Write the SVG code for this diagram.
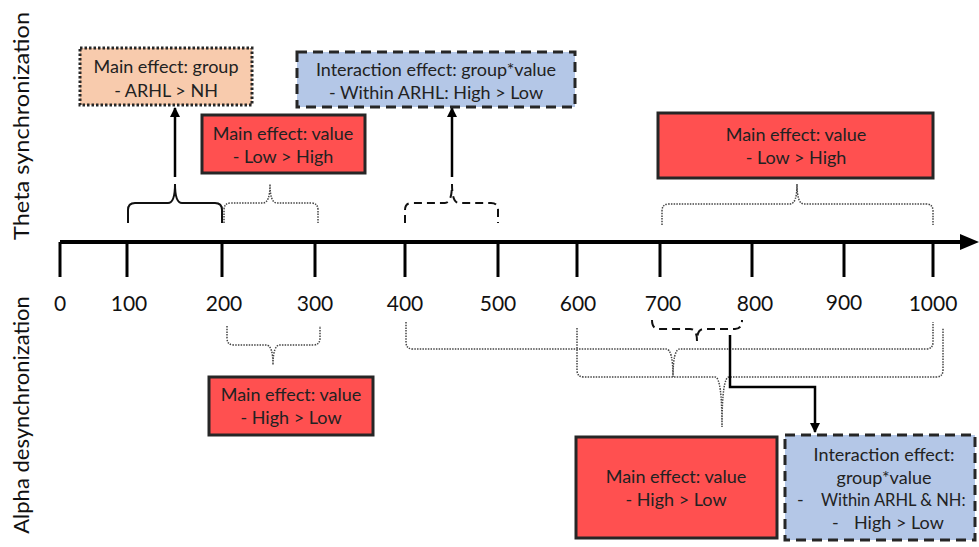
<svg xmlns="http://www.w3.org/2000/svg" width="979" height="547" viewBox="0 0 979 547">
<style>
.red{fill:#FF5050;stroke:#262626;stroke-width:3}
.blue{fill:#B4C7E7;stroke:#262626;stroke-width:3;stroke-dasharray:10 6}
.orange{fill:#F8CBAD;stroke:#262626;stroke-width:3;stroke-dasharray:2.5 2}
.t{font-family:Lato,"Liberation Sans",sans-serif;font-size:18px;fill:#222;text-anchor:middle}
.ts{font-family:Lato,"Liberation Sans",sans-serif;font-size:18px;fill:#222}
.num{font-family:Lato,"Liberation Sans",sans-serif;font-size:21px;fill:#111;text-anchor:middle}
.side{font-family:Lato,"Liberation Sans",sans-serif;font-size:22px;fill:#111;text-anchor:middle}
.bdot{fill:none;stroke:#444;stroke-width:1.5;stroke-dasharray:1.5 1.2}
.bsolid{fill:none;stroke:#111;stroke-width:2}
.bdash{fill:none;stroke:#111;stroke-width:2;stroke-dasharray:8 5}
.conn{fill:none;stroke:#000;stroke-width:2.5}
.tick{stroke:#000;stroke-width:3}
</style>
<defs>
<marker id="ah" markerUnits="userSpaceOnUse" markerWidth="10" markerHeight="10" refX="9" refY="5" orient="auto">
<path d="M0,0 L10,5 L0,10 z" fill="#000"/>
</marker>
</defs>

<g id="side-labels">
<text class="side" transform="translate(29,126) rotate(-90)" textLength="228" lengthAdjust="spacingAndGlyphs">Theta synchronization</text>
<text class="side" transform="translate(29,415) rotate(-90)">Alpha desynchronization</text>
</g>

<g id="axis">
<line x1="60" y1="242" x2="962" y2="242" stroke="#000" stroke-width="4"/>
<polygon points="960,234 979,242 960,250" fill="#000"/>
<line class="tick" x1="60" y1="242" x2="60" y2="277"/>
<line class="tick" x1="127" y1="242" x2="127" y2="277"/>
<line class="tick" x1="222" y1="242" x2="222" y2="277"/>
<line class="tick" x1="315" y1="242" x2="315" y2="277"/>
<line class="tick" x1="405" y1="242" x2="405" y2="277"/>
<line class="tick" x1="498" y1="242" x2="498" y2="277"/>
<line class="tick" x1="577" y1="242" x2="577" y2="277"/>
<line class="tick" x1="660" y1="242" x2="660" y2="277"/>
<line class="tick" x1="752" y1="242" x2="752" y2="277"/>
<line class="tick" x1="844" y1="242" x2="844" y2="277"/>
<line class="tick" x1="933" y1="242" x2="933" y2="277"/>
<text class="num" x="60" y="311">0</text>
<text class="num" x="129" y="311">100</text>
<text class="num" x="224" y="311">200</text>
<text class="num" x="315" y="311">300</text>
<text class="num" x="405" y="311">400</text>
<text class="num" x="498" y="311">500</text>
<text class="num" x="578" y="311">600</text>
<text class="num" x="663" y="311">700</text>
<text class="num" x="755" y="311">800</text>
<text class="num" x="844" y="310">900</text>
<text class="num" x="933" y="311">1000</text>
</g>

<g id="connectors">
<path class="bsolid" d="M128,223 V210 Q128,203 135,203 H168 Q175,203 175,184 Q175,203 182,203 H215 Q222,203 222,210 V223"/>
<path class="bdot" d="M224,223 V210 Q224,203 231,203 H263 Q270,203 270,184 Q270,203 277,203 H311 Q318,203 318,210 V223"/>
<path class="bdash" d="M405,223 V210 Q405,203 412,203 H445 Q452,203 452,184 Q452,203 459,203 H491 Q498,203 498,210 V223"/>
<path class="bdot" d="M662,225 V211 Q662,204 669,204 H790 Q797,204 797,184 Q797,204 804,204 H926 Q933,204 933,211 V225"/>
<path class="conn" d="M175,177 V108" marker-end="url(#ah)"/>
<path class="conn" d="M452,177 V108" marker-end="url(#ah)"/>
<path class="bdot" d="M227,326 V338 Q227,345 234,345 H266 Q273,345 273,365 Q273,345 280,345 H313 Q320,345 320,338 V326"/>
<path class="bdot" d="M406,322 V342 Q406,349 413,349 H666 Q673,349 673,377 Q673,349 680,349 H926 Q933,349 933,342 V322"/>
<path class="bdot" d="M577,328 V370 Q577,377 584,377 H715 Q722,377 722,427 Q722,377 729,377 H936 Q943,377 943,370 V328"/>
<path class="bdash" d="M652,320 Q652,329 659,329 H690 Q697,329 697,341 Q697,329 704,329 H735 Q742,329 742,320"/>
<path class="conn" d="M730,335 V387 H815 V432" marker-end="url(#ah)"/>
</g>

<g id="node-group-main">
<rect class="orange" x="80" y="48" width="172" height="57"/>
<text class="t" x="166" y="73">Main effect: group</text>
<text class="t" x="166" y="97">- ARHL &gt; NH</text>
</g>

<g id="node-interaction-top">
<rect class="blue" x="297" y="52" width="278" height="55"/>
<text class="t" x="436" y="76">Interaction effect: group*value</text>
<text class="t" x="436" y="99">- Within ARHL: High &gt; Low</text>
</g>

<g id="node-value-top1">
<rect class="red" x="202" y="115" width="163" height="58"/>
<text class="t" x="283" y="140">Main effect: value</text>
<text class="t" x="283" y="163">- Low &gt; High</text>
</g>

<g id="node-value-top2">
<rect class="red" x="658" y="113" width="275" height="65"/>
<text class="t" x="796" y="141">Main effect: value</text>
<text class="t" x="796" y="164">- Low &gt; High</text>
</g>

<g id="node-value-bottom1">
<rect class="red" x="209" y="377" width="164" height="58"/>
<text class="t" x="291" y="401">Main effect: value</text>
<text class="t" x="291" y="424">- High &gt; Low</text>
</g>

<g id="node-value-bottom2">
<rect class="red" x="576" y="437" width="201" height="101"/>
<text class="t" x="676" y="483">Main effect: value</text>
<text class="t" x="676" y="506">- High &gt; Low</text>
</g>

<g id="node-interaction-bottom">
<rect class="blue" x="785" y="435" width="190" height="105"/>
<text class="t" x="884" y="461">Interaction effect:</text>
<text class="t" x="884" y="484">group*value</text>
<text class="ts" x="797" y="506">-</text>
<text class="ts" x="821" y="506" style="font-size:16.5px">Within ARHL &amp; NH:</text>
<text class="ts" x="832" y="529">-</text>
<text class="ts" x="854" y="529">High &gt; Low</text>
</g>
</svg>
